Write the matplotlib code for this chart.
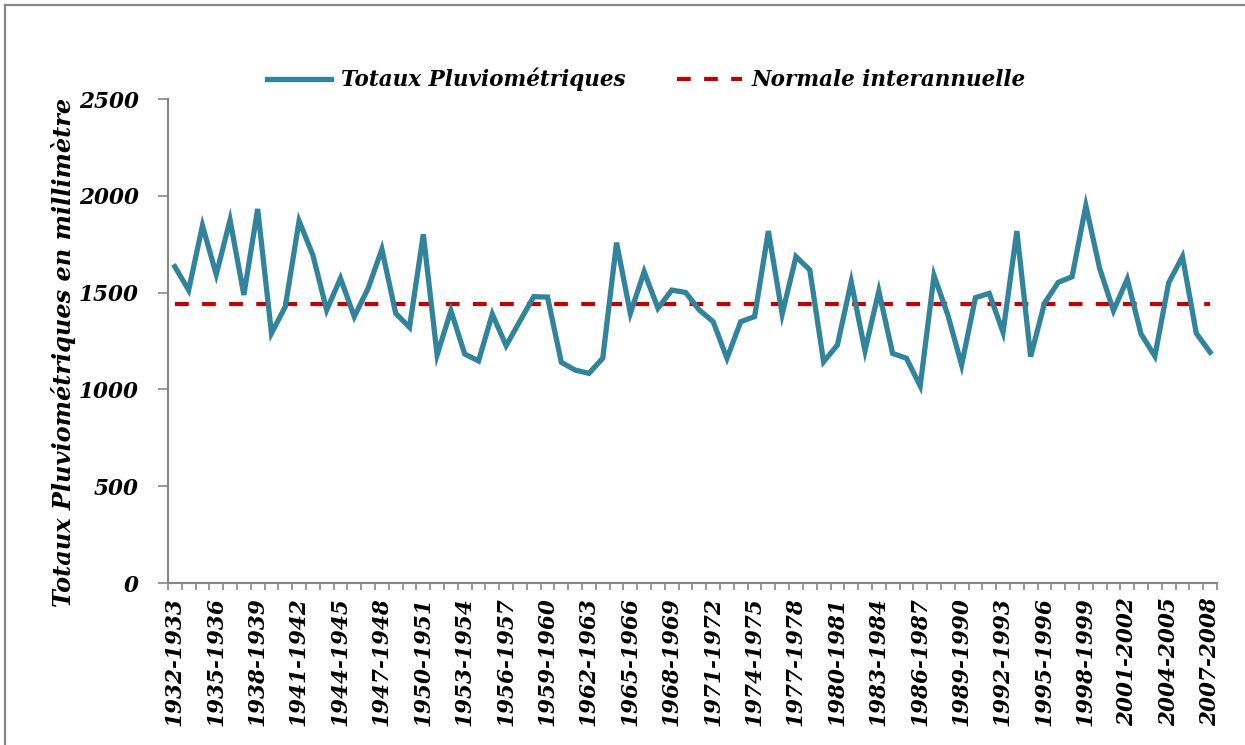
import numpy as np
import matplotlib
matplotlib.use('Agg')
import matplotlib.pyplot as plt
from matplotlib.lines import Line2D
from matplotlib.ticker import FixedLocator, NullFormatter

# ---------------------------------------------------------------------------
# DATA: annual rainfall totals (mm), hydrological years 1932-1933 .. 2007-2008
# ---------------------------------------------------------------------------

first_years = list(range(1932, 2008))
saisons = ['%d-%d' % (y, y + 1) for y in first_years]

totaux = [1634, 1513, 1846, 1594, 1875, 1488, 1932, 1290, 1427, 1870,
          1694, 1410, 1574, 1376, 1522, 1724, 1393, 1321, 1801, 1178,
          1407, 1183, 1147, 1389, 1226, 1353, 1479, 1477, 1140, 1100,
          1083, 1161, 1758, 1393, 1608, 1419, 1513, 1501, 1410, 1350,
          1161, 1350, 1376, 1818, 1389, 1686, 1617, 1143, 1229, 1556,
          1200, 1508, 1186, 1161, 1018, 1588, 1385, 1126, 1474, 1496,
          1295, 1818, 1169, 1445, 1553, 1582, 1949, 1625, 1407, 1570,
          1286, 1172, 1551, 1686, 1290, 1192]

normale = 1440

y_ticks = [0, 500, 1000, 1500, 2000, 2500]

# ---------------------------------------------------------------------------
# SETTINGS
# ---------------------------------------------------------------------------

c_line = '#31849B'
c_norm = '#C00000'
c_axis = '#868686'
fnt = dict(family='DejaVu Serif', weight='bold', style='italic')
fs = 15.5

# ---------------------------------------------------------------------------
# PLOT
# ---------------------------------------------------------------------------

fig = plt.figure(figsize=(12.45, 7.45), dpi=100)
ax = fig.add_axes([0.1349, 0.2174, 0.8426, 0.6497])

x = np.arange(len(saisons))
ax.plot(x, totaux, color=c_line, lw=3.8, solid_joinstyle='miter',
        label='Totaux Pluviométriques', zorder=3)
ax.plot(x, [normale] * len(saisons), color=c_norm, lw=3.0,
        dashes=(3.3, 3.2), label='Normale interannuelle', zorder=2)

ax.set_xlim(-0.5, len(saisons) - 0.5)
ax.set_ylim(0, 2500)

# labels every third season, tick marks between categories
ax.set_xticks(x[::3])
ax.set_xticklabels([saisons[i] for i in x[::3]], rotation=90, fontsize=fs, **fnt)
ax.xaxis.set_minor_locator(FixedLocator(np.arange(-0.5, len(saisons), 1.0)))
ax.xaxis.set_minor_formatter(NullFormatter())
ax.tick_params(axis='x', which='major', length=0, pad=10)
ax.tick_params(axis='x', which='minor', length=5, width=1.2, color=c_axis)

ax.set_yticks(y_ticks)
ax.set_yticklabels([str(v) for v in y_ticks], fontsize=fs, **fnt)
ax.tick_params(axis='y', length=7, width=1.2, color=c_axis, pad=14)

for s in ['top', 'right']:
    ax.spines[s].set_visible(False)
for s in ['left', 'bottom']:
    ax.spines[s].set_color(c_axis)
    ax.spines[s].set_linewidth(1.5)

ax.set_ylabel('Totaux Pluviométriques en millimètre', fontsize=17.3, **fnt)
ax.yaxis.set_label_coords(-0.088, 0.477)

leg = fig.legend(loc='center', bbox_to_anchor=(0.519, 0.893), ncol=2,
                 frameon=False, handlelength=3.0, handletextpad=0.45,
                 columnspacing=2.4, prop=dict(size=fs, **fnt))

# outer chart border (top and left edges)
fig.add_artist(Line2D([0.004, 1.0], [0.993, 0.993], color=c_axis, lw=1.6,
                      transform=fig.transFigure))
fig.add_artist(Line2D([0.004, 0.004], [0.0, 0.993], color=c_axis, lw=1.6,
                      transform=fig.transFigure))

plt.savefig('out.png', dpi=100)
